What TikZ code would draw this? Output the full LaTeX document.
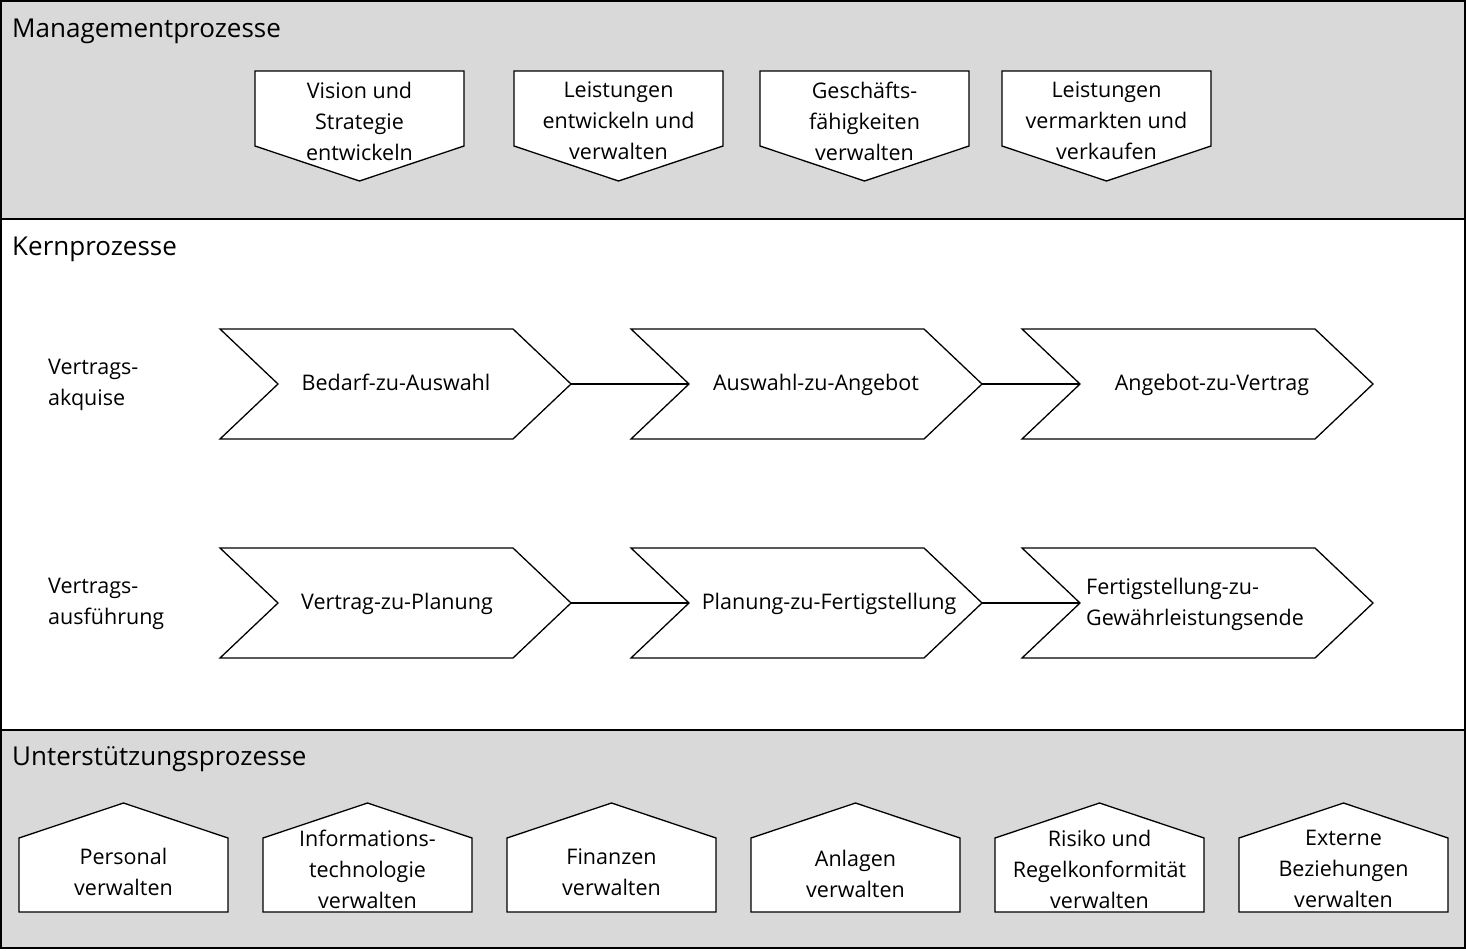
\documentclass[tikz,border=0pt]{standalone}
\usepackage{fontspec}
\setmainfont{Open Sans}
\definecolor{band}{HTML}{D9D9D9}
\begin{document}
\begin{tikzpicture}[x=1pt,y=-1pt,
  shp/.style={draw=black,fill=white,line width=1.3pt,line join=miter},
  txt/.style={font=\fontsize{21.5}{31}\selectfont,align=center,inner sep=0},
  one/.style={txt,text height=16pt,text depth=5pt},
  head/.style={font=\fontsize{26}{30}\selectfont,anchor=west,inner sep=0},
  lbl/.style={font=\fontsize{21.5}{31}\selectfont,align=left,anchor=west,inner sep=0},
  conn/.style={draw=black,line width=1.1pt}]
\useasboundingbox (0,0) rectangle (1466,950);
\fill[band] (1,1) rectangle (1465,219);
\fill[white] (1,219) rectangle (1465,730);
\fill[band] (1,730) rectangle (1465,948);
\draw[line width=1.3pt] (1,1) rectangle (1465,948);
\draw[line width=1.3pt] (1,219) -- (1465,219) (1,730) -- (1465,730);
\node[head] (h1) at (12,31) {Managementprozesse};
\node[head] (h2) at (12,249) {Kernprozesse};
\node[head] (h3) at (12,759) {Unterstützungsprozesse};
% management pentagons
\foreach \x/\t [count=\i] in {255/{Vision und\\Strategie\\entwickeln},514/{Leistungen\\entwickeln und\\verwalten},760/{Geschäfts-\\fähigkeiten\\verwalten},1002/{Leistungen\\vermarkten und\\verkaufen}}{
  \draw[shp] (\x,71) -- (\x+209,71) -- (\x+209,146) -- (\x+104.5,181) -- (\x,146) -- cycle;
  \node[txt] (m\i) at (\x+104.5,121) {\t};
}
% chevrons
\foreach \y/\r in {384/a,603/b}{
  \foreach \x/\i in {220/1,631/2,1022/3}{
    \draw[shp] (\x,\y-55) -- (\x+293,\y-55) -- (\x+351,\y) -- (\x+293,\y+55) -- (\x,\y+55) -- (\x+58,\y) -- cycle;
    \coordinate (\r\i n) at (\x+58,\y);
    \coordinate (\r\i t) at (\x+351,\y);
  }
}
\node[one] (a1) at (396,385) {Bedarf-zu-Auswahl};
\node[one] (a2) at (816,385) {Auswahl-zu-Angebot};
\node[one] (a3) at (1212,385) {Angebot-zu-Vertrag};
\node[one] (b1) at (397,604) {Vertrag-zu-Planung};
\node[one] (b2) at (829,604) {Planung-zu-Fertigstellung};
\node[txt,align=left,anchor=west] (b3) at (1086,604) {Fertigstellung-zu-\\Gewährleistungsende};
\draw[conn] (a1t) -- (a2n); \draw[conn] (a2t) -- (a3n);
\draw[conn] (b1t) -- (b2n); \draw[conn] (b2t) -- (b3n);
\node[lbl] (l1) at (48,385) {Vertrags-\\akquise};
\node[lbl] (l2) at (48,604) {Vertrags-\\ausführung};
% support houses
\foreach \x/\t/\yy [count=\i] in {19/{Personal\\verwalten}/872,263/{Informations-\\technologie\\verwalten}/869,507/{Finanzen\\verwalten}/872,751/{Anlagen\\verwalten}/874,995/{Risiko und\\Regelkonformität\\verwalten}/869,1239/{Externe\\Beziehungen\\verwalten}/869}{
  \draw[shp] (\x,912) -- (\x,838) -- (\x+104.5,803) -- (\x+209,838) -- (\x+209,912) -- cycle;
  \node[txt] (s\i) at (\x+104.5,\yy) {\t};
}
\end{tikzpicture}
\end{document}
